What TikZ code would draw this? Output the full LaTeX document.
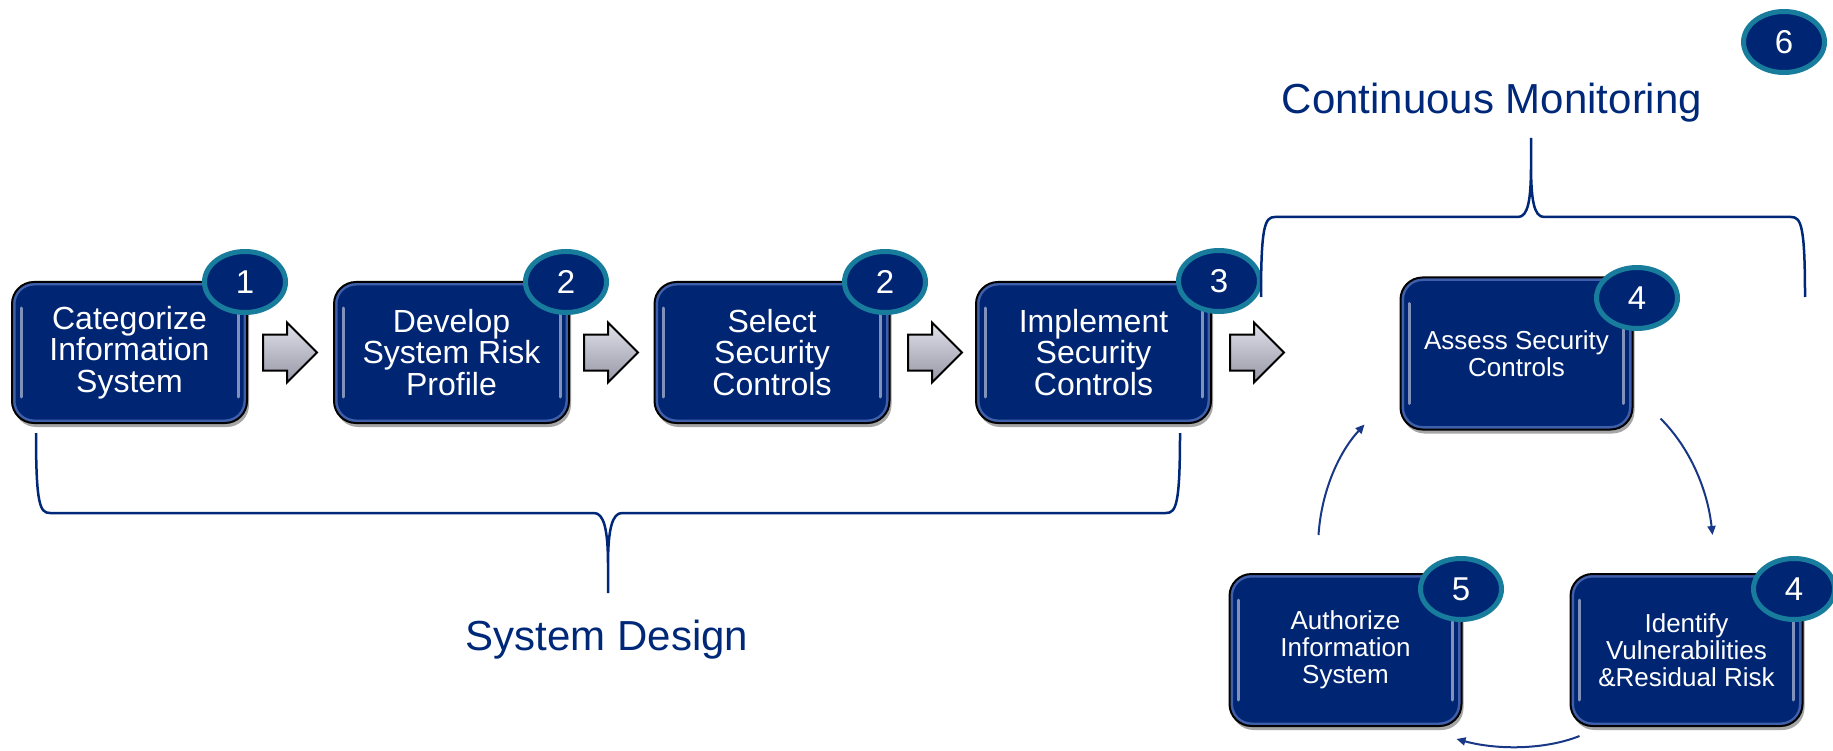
\documentclass[tikz,border=0pt]{standalone}
\usepackage{fontspec}
\setmainfont{Liberation Sans}
\usetikzlibrary{shapes.geometric,shapes.arrows,shadows,arrows.meta,calc}

\definecolor{navy}{RGB}{0,38,115}
\definecolor{rim}{RGB}{24,124,156}
\definecolor{inkblue}{RGB}{0,40,120}
\definecolor{rimlight}{RGB}{85,115,190}
\definecolor{chevtop}{RGB}{225,225,235}
\definecolor{chevbot}{RGB}{150,150,165}
\definecolor{flowblue}{RGB}{25,55,135}

\begin{document}
\begin{tikzpicture}[x=1pt,y=-1pt,
  panel/.style={rounded corners=22pt, draw=black, line width=2pt, fill=navy,
    text=white, align=center, inner sep=0pt,
    drop shadow={shadow xshift=2pt,shadow yshift=-4pt,opacity=0.35,fill=black},
    path picture={
      \draw[rimlight, line width=7pt, rounded corners=22pt, opacity=0.75]
        (path picture bounding box.south west) rectangle (path picture bounding box.north east);
      \draw[white, opacity=0.5, line width=3pt, line cap=round]
        ([xshift=9pt,yshift=-26pt]path picture bounding box.north west) --
        ([xshift=9pt,yshift=26pt]path picture bounding box.south west);
      \draw[white, opacity=0.5, line width=3pt, line cap=round]
        ([xshift=-9pt,yshift=-26pt]path picture bounding box.north east) --
        ([xshift=-9pt,yshift=26pt]path picture bounding box.south east);
    }},
  upperbox/.style={panel, minimum width=235pt, minimum height=141pt,
    font=\fontsize{32pt}{31.5pt}\selectfont},
  lowerbox/.style={panel, minimum width=232pt, minimum height=152pt,
    font=\fontsize{26pt}{27pt}\selectfont},
  badge/.style={ellipse, minimum width=81pt, minimum height=61pt, inner sep=0pt,
    fill=navy, draw=rim, line width=5pt, text=white,
    font=\fontsize{33pt}{33pt}\selectfont},
  chevron/.style={single arrow, draw=black, line width=2pt,
    top color=chevtop, bottom color=chevbot,
    minimum height=54pt, inner xsep=0pt, inner ysep=17pt,
    single arrow head extend=12pt},
  brace/.style={draw=inkblue, line width=2.5pt},
  flow/.style={draw=flowblue, line width=2pt, -{Triangle[length=9pt,width=8pt]}},
  heading/.style={text=inkblue, font=\fontsize{42pt}{42pt}\selectfont}
]
\useasboundingbox (0,0) rectangle (1833,751);
\fill[white] (0,0) rectangle (1833,751);

% Upper row of process steps
\node[upperbox] (b1) at (129.5,352.5) {Categorize\\Information\\System};
\node[upperbox] (b2) at (451.5,352.5) {Develop\\System Risk\\Profile};
\node[upperbox] (b3) at (772,352.5) {Select\\Security\\Controls};
\node[upperbox] (b4) at (1093.5,352.5) {Implement\\Security\\Controls};

% Monitoring cycle
\node[lowerbox] (assess) at (1516.5,353.5) {Assess Security\\Controls};
\node[lowerbox] (authorize) at (1345.5,650) {Authorize\\Information\\System};
\node[lowerbox] (identify) at (1686.5,650) {Identify\\Vulnerabilities\\\&Residual Risk};

% Chevrons between steps
\node[chevron] (c1) at (281,352.5) {};
\node[chevron] (c2) at (602,352.5) {};
\node[chevron] (c3) at (926,352.5) {};
\node[chevron] (c4) at (1248,352.5) {};

% Step numbers
\node[badge] (n1) at (245,282) {1};
\node[badge] (n2) at (566,282) {2};
\node[badge] (n3) at (885,282) {2};
\node[badge] (n4) at (1219,281) {3};
\node[badge] (n5) at (1637,298) {4};
\node[badge] (n6) at (1461,589) {5};
\node[badge] (n7) at (1794,589) {4};
\node[badge] (n8) at (1784,42) {6};

% Group braces
\draw[brace] (36,433) .. controls (36,505) and (40,513) .. (50,513) -- (594,513)
  .. controls (604,513) and (608,530) .. (608,565) -- (608,593) -- (608,565)
  .. controls (608,530) and (612,513) .. (622,513) -- (1166,513)
  .. controls (1176,513) and (1180,505) .. (1180,433);
\draw[brace] (1261,297) .. controls (1261,225) and (1265,217) .. (1275,217) -- (1518,217)
  .. controls (1528,217) and (1531,200) .. (1531,165) -- (1531,138) -- (1531,165)
  .. controls (1531,200) and (1534,217) .. (1544,217) -- (1791,217)
  .. controls (1801,217) and (1805,225) .. (1805,297);

\node[heading] (cm) at (1492,103) {Continuous Monitoring};
\node[heading] (sd) at (607,640) {System Design};

% Cycle arrows
\coordinate (a1) at ($(assess.south east)+(27,-12)$);
\coordinate (a2) at ($(identify.north)+(26,-38)$);
\coordinate (b1s) at ($(identify.south west)+(10,9)$);
\coordinate (b2e) at ($(authorize.south east)+(-6,12)$);
\coordinate (c1s) at ($(authorize.north)+(-27,-38)$);
\coordinate (c2e) at ($(assess.south west)+(-35,-6)$);
\draw[flow] (a1) .. controls +(30,30) and +(-5,-45) .. (a2);
\draw[flow] (b1s) .. controls +(-35,14) and +(40,11) .. (b2e);
\draw[flow] (c1s) .. controls +(3,-45) and +(-25,27) .. (c2e);
\end{tikzpicture}
\end{document}
